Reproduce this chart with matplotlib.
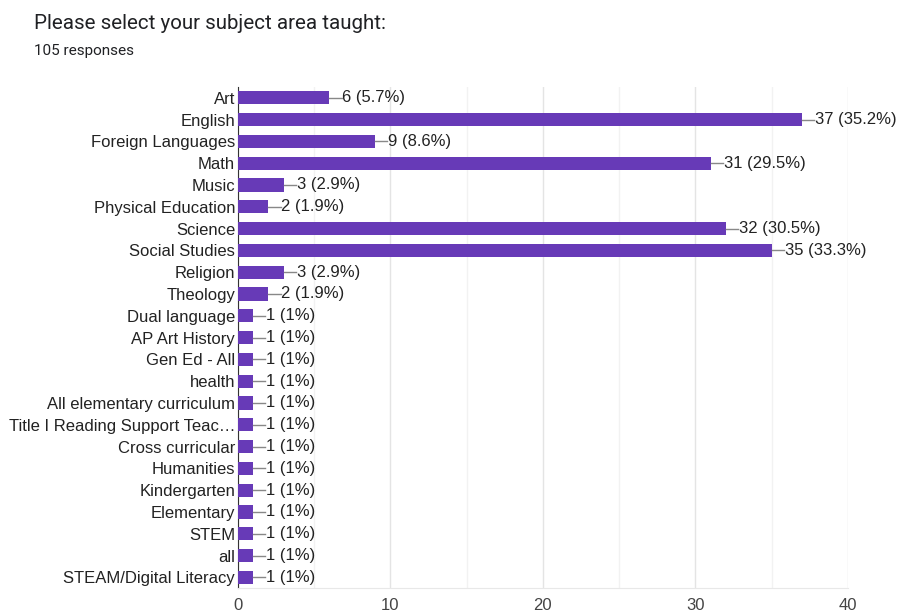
import matplotlib.pyplot as plt
from matplotlib.ticker import MultipleLocator

plt.rcParams['font.family'] = ['Liberation Sans', 'DejaVu Sans']

# Survey answers, top to bottom as shown
subjects = ['Art', 'English', 'Foreign Languages', 'Math', 'Music', 'Physical Education',
            'Science', 'Social Studies', 'Religion', 'Theology', 'Dual language',
            'AP Art History', 'Gen Ed - All', 'health', 'All elementary curriculum',
            'Title I Reading Support Teac\u2026', 'Cross curricular', 'Humanities',
            'Kindergarten', 'Elementary', 'STEM', 'all', 'STEAM/Digital Literacy']
counts = [6, 37, 9, 31, 3, 2, 32, 35, 3, 2, 1, 1, 1, 1, 1, 1, 1, 1, 1, 1, 1, 1, 1]
percents = ['5.7%', '35.2%', '8.6%', '29.5%', '2.9%', '1.9%', '30.5%', '33.3%', '2.9%',
            '1.9%', '1%', '1%', '1%', '1%', '1%', '1%', '1%', '1%', '1%', '1%', '1%',
            '1%', '1%']
total = 105

bar_color = '#673ab7'
text_color = '#222222'

fig = plt.figure(figsize=(9.01, 6.16), dpi=100)
ax = fig.add_axes([0.264, 0.045, 0.677, 0.814])

ypos = list(range(len(subjects)))
ax.barh(ypos, counts, height=0.6, color=bar_color, zorder=3)

# value labels with the small leader line
for y, v, p in zip(ypos, counts, percents):
    ax.plot([v, v + 0.8], [y, y], color='#888888', lw=1, zorder=3)
    ax.text(v + 0.85, y, '{} ({})'.format(v, p), va='center', ha='left',
            fontsize=12, color=text_color)

ax.set_xlim(0, 40)
ax.set_ylim(len(subjects) - 0.5, -0.5)
ax.set_yticks(ypos)
ax.set_yticklabels(subjects, fontsize=12, color=text_color)
ax.xaxis.set_major_locator(MultipleLocator(10))
ax.xaxis.set_minor_locator(MultipleLocator(5))
ax.tick_params(axis='x', which='both', length=0, labelsize=12, labelcolor='#444444', pad=7)
ax.tick_params(axis='y', length=0, pad=2)

ax.grid(axis='x', which='major', color='#e4e4e4', lw=1, zorder=0)
ax.grid(axis='x', which='minor', color='#f2f2f2', lw=1, zorder=0)
for side in ['top', 'right']:
    ax.spines[side].set_visible(False)
ax.spines['bottom'].set_color('#e8e8e8')
ax.spines['left'].set_color('#333333')

fig.text(0.038, 0.962, 'Please select your subject area taught:', fontsize=14.8,
         color='#202124', va='center', family=['Roboto', 'DejaVu Sans'])
fig.text(0.038, 0.918, '{} responses'.format(total), fontsize=11,
         color='#202124', va='center', family=['Roboto', 'DejaVu Sans'])

fig.savefig('out.png', dpi=100)
